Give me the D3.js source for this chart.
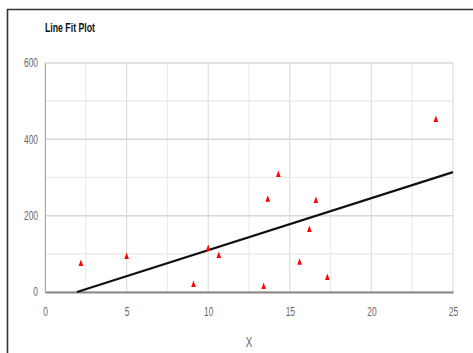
<!DOCTYPE html>
<html>
<head>
<meta charset="utf-8">
<script src="https://cdn.jsdelivr.net/npm/d3@7"></script>
<style>
  body { margin: 0; background: #fff; }
  text { font-family: "Liberation Sans", Arial, sans-serif; }
</style>
</head>
<body>
<div id="chart"></div>
<script>
// observed points (X, Y)
const pointX = [2.2, 5, 9.1, 10, 10.65, 13.4, 13.65, 14.3, 15.6, 16.2, 16.6, 17.3, 23.95];
const pointY = [76, 94, 21, 115, 97, 16, 244, 309, 79, 165, 241, 39, 453];

// fitted line end points
const fitX = [1.96, 25];
const fitY = [0, 314];

const xTicks = [0, 5, 10, 15, 20, 25];
const yTicks = [0, 200, 400, 600];

const width = 473, height = 353;
const margin = { top: 63, right: 20, bottom: 61, left: 45 };
const plotW = 453 - margin.left;
const plotH = 292 - margin.top;
const squeeze = 0.7; // condensed look of the original font

const svg = d3.select("#chart")
    .append("svg")
    .attr("width", width)
    .attr("height", height);

// outer frame (top + left edges visible)
svg.append("path")
    .attr("d", `M7.5,${height} L7.5,9.5 L${width},9.5`)
    .attr("fill", "none")
    .attr("stroke", "#333")
    .attr("stroke-width", 1.6);

svg.append("text")
    .attr("transform", `translate(45, 32) scale(${squeeze}, 1)`)
    .style("font-size", "12.5px")
    .style("font-weight", "bold")
    .style("fill", "#111")
    .text("Line Fit Plot");

const g = svg.append("g")
    .attr("transform", `translate(${margin.left}, ${margin.top})`);

const x = d3.scaleLinear().domain([0, 25]).range([0, plotW]);
const y = d3.scaleLinear().domain([0, 600]).range([plotH, 0]);

// grid
g.append("g")
    .selectAll("line")
    .data(d3.range(0, 25.01, 2.5))
    .join("line")
    .attr("x1", d => x(d)).attr("x2", d => x(d))
    .attr("y1", 0).attr("y2", plotH)
    .attr("stroke", d => d % 5 === 0 ? "#dedede" : "#ececec")
    .attr("stroke-width", 1.2);

g.append("g")
    .selectAll("line")
    .data(d3.range(0, 601, 100))
    .join("line")
    .attr("x1", 0).attr("x2", plotW)
    .attr("y1", d => y(d)).attr("y2", d => y(d))
    .attr("stroke", d => d % 200 === 0 ? "#d8d8d8" : "#e8e8e8")
    .attr("stroke-width", d => d % 200 === 0 ? 1.5 : 1.2);

// axes
const xAxis = g.append("g")
    .attr("transform", `translate(0, ${plotH})`)
    .call(d3.axisBottom(x).tickValues(xTicks).tickSize(0).tickPadding(15));
xAxis.select(".domain").attr("stroke", "#888").attr("stroke-width", 2);

const yAxis = g.append("g")
    .call(d3.axisLeft(y).tickValues(yTicks).tickSize(0).tickPadding(7));
yAxis.select(".domain").attr("stroke", "#aaa").attr("stroke-width", 1);

g.selectAll(".tick text")
    .style("font-size", "12px")
    .style("fill", "#666")
    .each(function() {
        const t = d3.select(this);
        const tx = +t.attr("x") || 0;
        t.attr("x", 0).attr("transform", `translate(${tx}, 0) scale(${squeeze}, 1)`);
    });

// fitted line
g.append("path")
    .datum(fitX.map((d, i) => [d, fitY[i]]))
    .attr("fill", "none")
    .attr("stroke", "#111")
    .attr("stroke-width", 2.2)
    .attr("d", d3.line().x(d => x(d[0])).y(d => y(d[1])));

// points
g.append("g")
    .selectAll("path")
    .data(pointX.map((d, i) => [d, pointY[i]]))
    .join("path")
    .attr("transform", d => `translate(${x(d[0])}, ${y(d[1])})`)
    .attr("d", "M0,-3.5 L2.3,3 L-2.3,3 Z")
    .attr("fill", "#ff0000");

svg.append("text")
    .attr("transform", `translate(249, 347) scale(${squeeze}, 1)`)
    .attr("text-anchor", "middle")
    .style("font-size", "14px")
    .style("fill", "#666")
    .text("X");
</script>
</body>
</html>
